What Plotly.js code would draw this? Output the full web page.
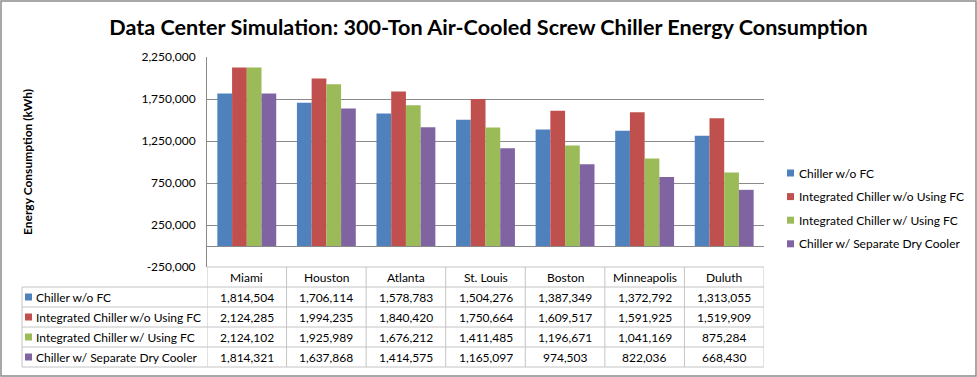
<!DOCTYPE html>
<html>
<head>
<meta charset="utf-8">
<script src="https://cdn.plot.ly/plotly-3.0.1.min.js"></script>
<style>
html,body{margin:0;padding:0;background:#fff;}
#chart{width:977px;height:377px;}
</style>
</head>
<body>
<div id="chart"></div>
<script>
const cities = ["Miami","Houston","Atlanta","St. Louis","Boston","Minneapolis","Duluth"];
const seriesNames = ["Chiller w/o FC","Integrated Chiller w/o Using FC","Integrated Chiller w/ Using FC","Chiller w/ Separate Dry Cooler"];
const chillerNoFC = [1814504,1706114,1578783,1504276,1387349,1372792,1313055];
const integratedNoFC = [2124285,1994235,1840420,1750664,1609517,1591925,1519909];
const integratedFC = [2124102,1925989,1676212,1411485,1196671,1041169,875284];
const dryCooler = [1814321,1637868,1414575,1165097,974503,822036,668430];
const yTicks = [-250000,250000,750000,1250000,1750000,2250000];
const colors = ["#4F81BD","#C0504D","#9BBB59","#8064A2"];

const W=977,H=377;
const M={l:22,r:213,t:57,b:10,autoexpand:false};
const PW=W-M.l-M.r, PH=H-M.t-M.b;
const px=x=>(x-M.l)/PW;
const py=y=>(H-M.b-y)/PH;
const FONT="Lato, 'Open Sans', sans-serif";
const GRID='#8a8a8a', TL='#c4c4c4';
const fmt=v=>v.toLocaleString('en-US');

const series=[chillerNoFC,integratedNoFC,integratedFC,dryCooler];
const traces=series.map((vals,i)=>({
  type:'bar', name:seriesNames[i], x:cities, y:vals,
  marker:{color:colors[i]}, hoverinfo:'skip', showlegend:false
}));

const rowTop=267, rowH=20;
const annotations=[], shapes=[];
cities.forEach((c)=>{
  annotations.push({text:c,xref:'x',yref:'paper',x:c,y:py(rowTop+rowH/2),showarrow:false,
    xanchor:'center',yanchor:'middle',font:{family:FONT,size:12,color:'#000'}});
});
series.forEach((vals,i)=>{
  const yc=py(rowTop+rowH*(i+1)+rowH/2);
  annotations.push({text:seriesNames[i],xref:'paper',yref:'paper',x:px(34),y:yc,showarrow:false,
    xanchor:'left',yanchor:'middle',font:{family:FONT,size:12,color:'#000'}});
  shapes.push({type:'rect',xref:'paper',yref:'paper',x0:px(25),x1:px(32),
    y0:py(rowTop+rowH*(i+1)+rowH/2+3.5),y1:py(rowTop+rowH*(i+1)+rowH/2-3.5),
    line:{width:0},fillcolor:colors[i]});
  vals.forEach((v,j)=>{
    annotations.push({text:fmt(v),xref:'x',yref:'paper',x:cities[j],y:yc,showarrow:false,
      xanchor:'center',yanchor:'middle',font:{family:FONT,size:12,color:'#000'}});
  });
});
for(let r=1;r<=5;r++){
  shapes.push({type:'line',xref:'paper',yref:'paper',x0:px(22),x1:1,y0:py(rowTop+rowH*r),y1:py(rowTop+rowH*r),
    line:{color:TL,width:1}});
}
shapes.push({type:'line',xref:'paper',yref:'paper',x0:px(207),x1:1,y0:py(rowTop),y1:py(rowTop),line:{color:TL,width:1}});
for(let k=0;k<=cities.length;k++){
  shapes.push({type:'line',xref:'x',yref:'paper',x0:k-0.5,x1:k-0.5,y0:py(rowTop),y1:py(rowTop+rowH*5),
    line:{color:TL,width:1}});
}
shapes.push({type:'line',xref:'paper',yref:'paper',x0:px(22),x1:px(22),y0:py(rowTop+rowH),y1:py(rowTop+rowH*5),
  line:{color:TL,width:1}});

const legTop=173, legStep=23.6;
seriesNames.forEach((n,i)=>{
  const yc=legTop+legStep*i;
  shapes.push({type:'rect',xref:'paper',yref:'paper',x0:px(787),x1:px(794),y0:py(yc+3.5),y1:py(yc-3.5),
    line:{width:0},fillcolor:colors[i]});
  annotations.push({text:n,xref:'paper',yref:'paper',x:px(797),y:py(yc),showarrow:false,
    xanchor:'left',yanchor:'middle',font:{family:FONT,size:12,color:'#000'}});
});

shapes.push({type:'rect',xref:'paper',yref:'paper',x0:px(1),x1:px(976),y0:py(376),y1:py(1),
  line:{color:'#8c8c8c',width:1.5},fillcolor:'rgba(0,0,0,0)'});

annotations.push({text:'<b>Energy Consumption (kWh)</b>',textangle:-90,xref:'paper',yref:'paper',
  x:px(27),y:py(162),xanchor:'center',yanchor:'middle',showarrow:false,font:{family:FONT,size:12,color:'#000'}});

const layout={
  width:W,height:H,margin:M,
  paper_bgcolor:'#fff',plot_bgcolor:'#fff',
  font:{family:FONT,size:12,color:'#000'},
  title:{text:'<b>Data Center Simulation: 300-Ton Air-Cooled Screw Chiller Energy Consumption</b>',
    x:0.5,xref:'container',y:1-27/377,yref:'container',yanchor:'middle',
    font:{family:FONT,size:21.6,color:'#000'}},
  barmode:'group',bargap:0.26,bargroupgap:0,
  xaxis:{domain:[px(207),1],range:[-0.5,6.5],showticklabels:false,ticks:'',showgrid:false,zeroline:false,
    showline:false,fixedrange:true},
  yaxis:{domain:[py(267),1],range:[-250000,2250000],tickmode:'array',tickvals:yTicks,ticktext:yTicks.map(fmt),
    showgrid:true,gridcolor:GRID,gridwidth:1,zeroline:true,zerolinecolor:GRID,zerolinewidth:1,
    showline:true,linecolor:GRID,ticks:'',ticklabelstandoff:8,
    tickfont:{family:FONT,size:12,color:'#000'}},
  showlegend:false,
  annotations:annotations,
  shapes:shapes
};
Plotly.newPlot('chart',traces,layout,{staticPlot:true,displayModeBar:false});
</script>
</body>
</html>
